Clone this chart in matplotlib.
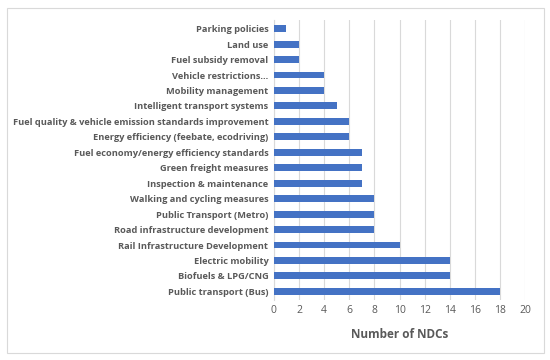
import matplotlib
matplotlib.use("Agg")
import matplotlib.pyplot as plt
from matplotlib.patches import Rectangle

categories = [
    "Public transport (Bus)",
    "Biofuels & LPG/CNG",
    "Electric mobility",
    "Rail Infrastructure Development",
    "Road infrastructure development",
    "Public Transport (Metro)",
    "Walking and cycling measures",
    "Inspection & maintenance",
    "Green freight measures",
    "Fuel economy/energy efficiency standards",
    "Energy efficiency (feebate, ecodriving)",
    "Fuel quality & vehicle emission standards improvement",
    "Intelligent transport systems",
    "Mobility management",
    "Vehicle restrictions...",
    "Fuel subsidy removal",
    "Land use",
    "Parking policies",
]
values = [18, 14, 14, 10, 8, 8, 8, 7, 7, 7, 6, 6, 5, 4, 4, 2, 2, 1]
xticks = list(range(0, 21, 2))

plt.rcParams['font.family'] = ['Open Sans', 'DejaVu Sans']
fig = plt.figure(figsize=(5.5, 3.6), dpi=100)
ax = fig.add_axes([0.498, 0.167, 0.457, 0.777])

y = list(range(len(categories)))
ax.barh(y, values, height=0.45, color="#4472C4", zorder=3)
ax.set_yticks(y)
ax.set_yticklabels(categories, fontsize=6.7, fontweight="bold", color="#595959")
ax.set_ylim(-0.55, len(categories) - 0.45)
ax.set_xlim(0, 20)
ax.set_xticks(xticks)
ax.set_xticklabels([str(t) for t in xticks], fontsize=7.5, color="#595959")
ax.grid(axis="x", color="#d9d9d9", linewidth=0.8, zorder=0)
for s in ["top", "right", "bottom"]:
    ax.spines[s].set_visible(False)
ax.spines["left"].set_color("#d9d9d9")
ax.tick_params(axis="both", length=0, pad=4)
ax.set_xlabel("Number of NDCs", fontsize=8.5, fontweight="bold", color="#595959", labelpad=8)

fig.patches.append(Rectangle((7/550, 1-353/360), 537/550, 345/360, transform=fig.transFigure,
                             fill=False, edgecolor="#d9d9d9", linewidth=0.8))
fig.savefig("out.png", dpi=100)
